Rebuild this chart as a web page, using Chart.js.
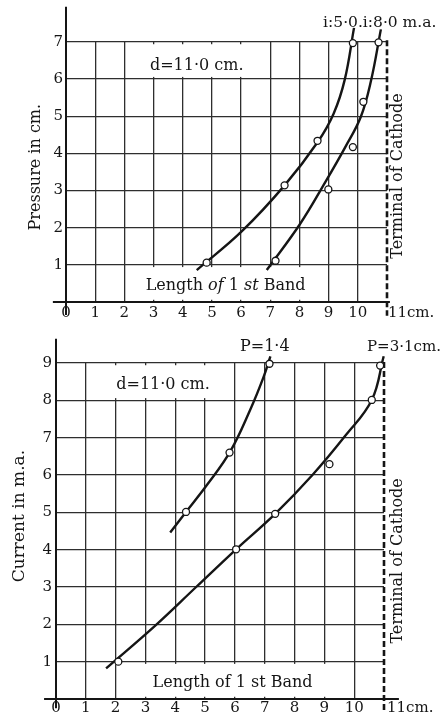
<!DOCTYPE html>
<html><head><meta charset="utf-8">
<script src="https://cdn.jsdelivr.net/npm/chart.js@4.4.1/dist/chart.umd.min.js"></script>
<style>
html,body{margin:0;padding:0;background:#fff;}
body{width:444px;height:722px;position:relative;overflow:hidden;}
#c1{position:absolute;left:0;top:0;}
#c2{position:absolute;left:0;top:325px;}
</style></head><body>
<canvas id="c1" width="444" height="325"></canvas>
<canvas id="c2" width="444" height="397"></canvas>
<script>
// ---------- DATA ----------
const lengthTicks = [0,1,2,3,4,5,6,7,8,9,10,11];
const pressureTicks = [0,1,2,3,4,5,6,7];
const currentTicks = [0,1,2,3,4,5,6,7,8,9];

// Top chart: pressure (cm) vs length of 1st band (cm)
// i = 5.0 m.a. observations and fitted curve
const obsI5_len = [4.82, 7.49, 8.62, 9.83];
const obsI5_p   = [1.06, 3.14, 4.34, 6.97];
const curveI5_len = [4.48, 6.02, 7.49, 8.62, 9.17, 9.55, 9.87];
const curveI5_p   = [0.86, 1.90, 3.14, 4.30, 5.07, 5.98, 7.38];
// i = 8.0 m.a.
const obsI8_len = [7.18, 8.99, 9.83, 10.19, 10.71];
const obsI8_p   = [1.11, 3.03, 4.17, 5.39, 6.99];
const curveI8_len = [6.88, 8.02, 8.88, 9.57, 10.10, 10.45, 10.79];
const curveI8_p   = [0.86, 2.10, 3.22, 4.17, 4.98, 5.95, 7.34];

// Bottom chart: current (m.a.) vs length of 1st band (cm)
// P = 1.4 cm
const obsP14_len = [4.36, 5.82, 7.16];
const obsP14_i   = [5.01, 6.60, 8.98];
const curveP14_len = [3.83, 4.36, 5.06, 5.85, 6.51, 6.95, 7.19];
const curveP14_i   = [4.46, 5.01, 5.73, 6.64, 7.74, 8.60, 9.18];
// P = 3.1 cm
const obsP31_len = [2.09, 6.04, 7.35, 9.17, 10.59, 10.87];
const obsP31_i   = [1.00, 4.01, 4.96, 6.29, 8.01, 8.93];
const curveP31_len = [1.68, 3.32, 4.70, 6.04, 7.35, 8.60, 9.70, 10.59, 10.99];
const curveP31_i   = [0.82, 1.96, 3.00, 4.01, 4.96, 6.00, 7.05, 8.01, 9.18];

// ---------- HELPERS ----------
const F = '"DejaVu Serif", "Liberation Serif", serif';
const INK = '#151515';
const pts = (xs, ys) => xs.map((v, i) => ({x: v, y: ys[i]}));

function curveDS(xs, ys) {
  return {type: 'scatter', data: pts(xs, ys), showLine: true, pointRadius: 0, pointHoverRadius: 0,
    borderColor: INK, borderWidth: 2.4, tension: 0.4, fill: false, clip: false, order: 2};
}
function obsDS(xs, ys) {
  return {type: 'scatter', data: pts(xs, ys), showLine: false, pointRadius: 3.5, pointStyle: 'circle',
    pointBackgroundColor: '#fff', pointBorderColor: INK, pointBorderWidth: 1.3, clip: false, order: 1};
}

function drawRuns(ctx, runs, cx, cy, size) {
  let total = 0;
  runs.forEach(r => { ctx.font = (r[1] ? 'italic ' : '') + size + 'px ' + F; total += ctx.measureText(r[0]).width; });
  let x = cx - total / 2;
  ctx.textAlign = 'left';
  runs.forEach(r => { ctx.font = (r[1] ? 'italic ' : '') + size + 'px ' + F; ctx.fillText(r[0], x, cy); x += ctx.measureText(r[0]).width; });
}

const decor = {
  id: 'decor',
  beforeDatasetsDraw(chart, args, o) {
    const {ctx, scales: {x, y}} = chart;
    const X = v => x.getPixelForValue(v), Y = v => y.getPixelForValue(v);
    ctx.save();
    ctx.fillStyle = '#fff';
    o.boxes.forEach(b => ctx.fillRect(X(b[0]), Y(b[3]), X(b[1]) - X(b[0]), Y(b[2]) - Y(b[3])));
    ctx.strokeStyle = INK; ctx.lineWidth = 2;
    ctx.beginPath(); ctx.moveTo(X(o.xAxis[0]), Y(0)); ctx.lineTo(X(o.xAxis[1]), Y(0)); ctx.stroke();
    ctx.beginPath(); ctx.moveTo(X(0), Y(o.yAxis[1])); ctx.lineTo(X(0), Y(o.yAxis[0])); ctx.stroke();
    ctx.setLineDash([6, 3]); ctx.lineWidth = 2.6;
    ctx.beginPath(); ctx.moveTo(X(11), Y(o.dash[1])); ctx.lineTo(X(11), Y(o.dash[0])); ctx.stroke();
    ctx.setLineDash([]);
    ctx.fillStyle = INK; ctx.textBaseline = 'middle';
    o.texts.forEach(t => {
      const px = X(t.x), py = Y(t.y);
      if (t.rot) {
        ctx.save(); ctx.translate(px, py); ctx.rotate(-Math.PI / 2);
        ctx.font = t.size + 'px ' + F; ctx.textAlign = 'center'; ctx.fillText(t.t, 0, 0);
        ctx.restore();
      } else if (t.runs) {
        drawRuns(ctx, t.runs, px, py, t.size);
      } else {
        ctx.font = t.size + 'px ' + F; ctx.textAlign = t.align || 'center'; ctx.fillText(t.t, px, py);
      }
    });
    ctx.restore();
  }
};

function gridColor(c) {
  const v = c.tick ? c.tick.value : null;
  return (v === 0 || v === 11) ? 'rgba(0,0,0,0)' : '#2e2e2e';
}

function makeChart(id, datasets, yTicks, pad, yWidth, decorOpts, xLabPad, yLabPad) {
  const ymax = yTicks[yTicks.length - 1];
  return new Chart(document.getElementById(id), {
    type: 'scatter',
    data: {datasets},
    options: {
      responsive: false, animation: false, devicePixelRatio: 1,
      layout: {padding: pad},
      plugins: {legend: {display: false}, tooltip: {enabled: false}, decor: decorOpts},
      scales: {
        x: {type: 'linear', min: lengthTicks[0], max: lengthTicks[lengthTicks.length - 1],
          afterBuildTicks: s => { s.ticks = lengthTicks.map(v => ({value: v})); },
          afterFit: s => { s.height = 23; },
          border: {display: false},
          grid: {color: gridColor, lineWidth: 1.3, drawTicks: false},
          ticks: {padding: xLabPad, color: INK, font: {family: F, size: 15}, autoSkip: false, maxRotation: 0,
            callback: v => v === 11 ? '' : String(v)}},
        y: {type: 'linear', min: 0, max: ymax,
          afterBuildTicks: s => { s.ticks = yTicks.map(v => ({value: v})); },
          afterFit: s => { s.width = yWidth; },
          border: {display: false},
          grid: {color: gridColor, lineWidth: 1.3, drawTicks: false},
          ticks: {padding: yLabPad, color: INK, font: {family: F, size: 15}, autoSkip: false,
            callback: v => v === 0 ? '' : String(v)}}
      }
    },
    plugins: [decor]
  });
}

// ---------- TOP CHART ----------
makeChart('c1',
  [curveDS(curveI5_len, curveI5_p), curveDS(curveI8_len, curveI8_p), obsDS(obsI5_len, obsI5_p), obsDS(obsI8_len, obsI8_p)],
  pressureTicks, {left: 0, top: 42, right: 57, bottom: 0}, 66,
  {
    boxes: [[2.1, 6.9, 6.06, 6.94], [2.1, 8.9, 0.06, 0.94]],
    xAxis: [-0.45, 11.1], yAxis: [-0.35, 7.95], dash: [-0.37, 7.05],
    texts: [
      {t: 'i:5·0.i:8·0 m.a.', x: 8.81, y: 7.51, size: 15.5, align: 'left'},
      {t: 'd=11·0 cm.', x: 4.48, y: 6.35, size: 16},
      {runs: [['Length ', false], ['of', true], [' 1 ', false], ['st', true], [' Band', false]], x: 5.47, y: 0.43, size: 16},
      {t: 'Terminal of Cathode', x: 11.38, y: 3.39, size: 16, rot: true},
      {t: 'Pressure in cm.', x: -1.03, y: 3.63, size: 16, rot: true},
      {t: '11cm.', x: 11.03, y: -0.30, size: 15, align: 'left'}
    ]
  }, 2, 3);

// ---------- BOTTOM CHART ----------
makeChart('c2',
  [curveDS(curveP14_len, curveP14_i), curveDS(curveP31_len, curveP31_i), obsDS(obsP14_len, obsP14_i), obsDS(obsP31_len, obsP31_i)],
  currentTicks, {left: 0, top: 38, right: 60, bottom: 0}, 56,
  {
    boxes: [[1.08, 5.92, 8.06, 8.94], [2.06, 9.94, 0.06, 0.94]],
    xAxis: [-0.4, 11.5], yAxis: [-0.25, 9.65], dash: [-0.3, 9.03],
    texts: [
      {t: 'P=1·4', x: 6.17, y: 9.43, size: 16, align: 'left'},
      {t: 'P=3·1cm.', x: 10.43, y: 9.43, size: 15, align: 'left'},
      {t: 'd=11·0 cm.', x: 3.59, y: 8.41, size: 16},
      {t: 'Length of 1 st Band', x: 5.92, y: 0.44, size: 16},
      {t: 'Terminal of Cathode', x: 11.47, y: 3.7, size: 16, rot: true},
      {t: 'Current in m.a.', x: -1.21, y: 4.9, size: 17, rot: true},
      {t: '11cm.', x: 11.1, y: -0.24, size: 15, align: 'left'}
    ]
  }, 0, 4);
</script>
</body></html>
